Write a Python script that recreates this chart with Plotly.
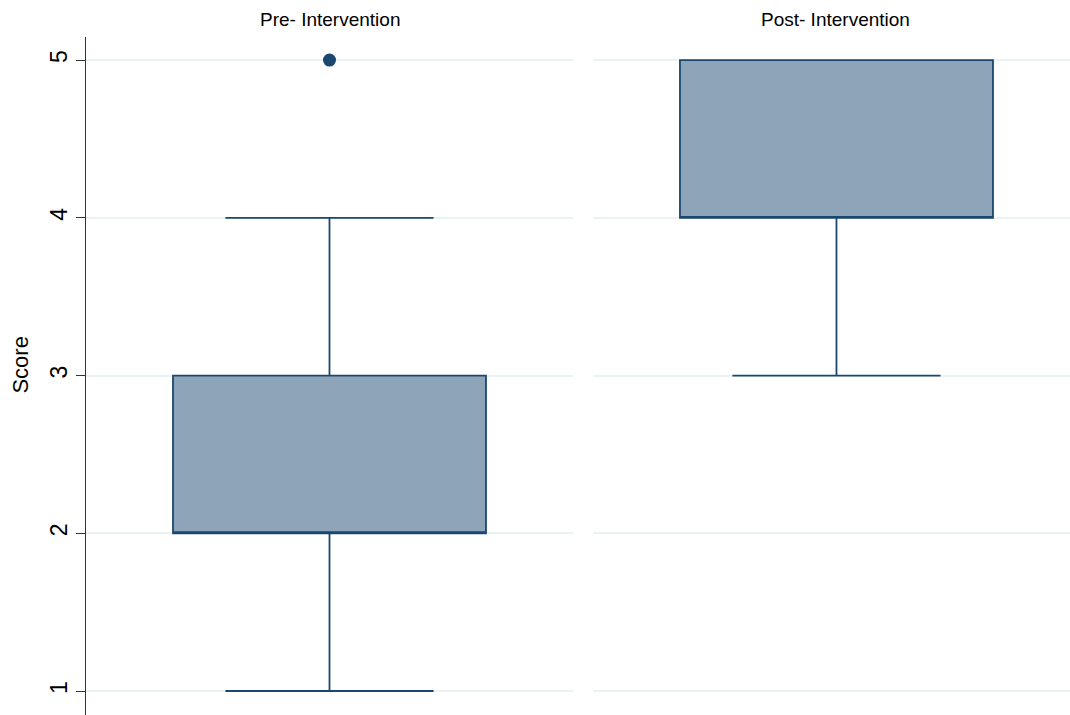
import plotly.graph_objects as go

# Summary statistics of the score, per study phase
phases = ["Pre- Intervention", "Post- Intervention"]
lower_whisker = [1, 3]
q1 = [2, 4]
median = [2, 4]
q3 = [3, 5]
upper_whisker = [4, 5]
# Outside values (beyond the whiskers)
outlier_phase = ["Pre- Intervention"]
outlier_score = [5]

navy = "#1a476f"
box_fill = "#8ea4b8"
grid = "#eaf2f3"

fig = go.Figure()
axes = [("x", "y"), ("x2", "y2")]
for i, ph in enumerate(phases):
    xa, ya = axes[i]
    fig.add_trace(go.Box(
        x=[0], q1=[q1[i]], median=[median[i]], q3=[q3[i]],
        lowerfence=[lower_whisker[i]], upperfence=[upper_whisker[i]],
        width=0.6427, whiskerwidth=0.665,
        fillcolor=box_fill, line=dict(color=navy, width=1.8),
        boxpoints=False, showlegend=False, hoverinfo="skip",
        xaxis=xa, yaxis=ya,
    ))
    pts = [s for p, s in zip(outlier_phase, outlier_score) if p == ph]
    if pts:
        fig.add_trace(go.Scatter(
            x=[0] * len(pts), y=pts, mode="markers",
            marker=dict(color=navy, size=13),
            showlegend=False, hoverinfo="skip", xaxis=xa, yaxis=ya,
        ))

yrange = [0.848, 5.146]
yticks = [1, 2, 3, 4, 5]
fig.update_layout(
    width=1070, height=715,
    margin=dict(l=86, r=0, t=37, b=0),
    paper_bgcolor="white", plot_bgcolor="white",
    font=dict(family="Liberation Sans, Arial, sans-serif", color="black"),
    xaxis=dict(domain=[0, 0.4949], range=[-0.5, 0.5], visible=False),
    xaxis2=dict(domain=[0.5152, 1], range=[-0.5, 0.4795], visible=False),
    yaxis=dict(range=yrange, tickvals=yticks, tickangle=-90,
               ticks="outside", ticklen=9, tickcolor="#333", tickwidth=1,
               showline=True, linecolor="#333", linewidth=1.2,
               showgrid=True, gridcolor=grid, gridwidth=2, zeroline=False,
               tickfont=dict(size=23)),
    yaxis2=dict(range=yrange, tickvals=yticks, showticklabels=False,
                showline=False, showgrid=True, gridcolor=grid, gridwidth=2,
                zeroline=False, anchor="x2", matches="y"),
)

fig.add_annotation(text="Score", xref="paper", yref="paper", x=-0.067,
                   y=1 - (365.5 - 37) / 678,
                   textangle=-90, showarrow=False, font=dict(size=22),
                   xanchor="center", yanchor="middle")
title_x = [243.5 / 984, 0.5152 + 243 / 984]
for tx, ph in zip(title_x, phases):
    fig.add_annotation(text=ph, xref="paper", yref="paper", x=tx,
                       y=1 + 17 / 678, showarrow=False, font=dict(size=19),
                       xanchor="center", yanchor="middle")

fig.write_html("out.html")
